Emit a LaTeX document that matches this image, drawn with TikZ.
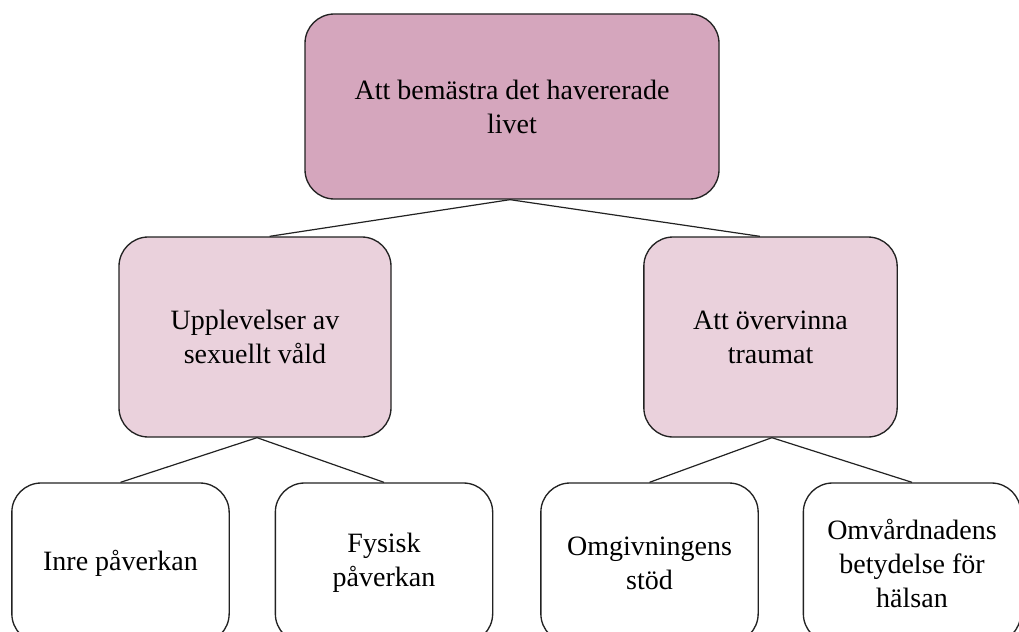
\documentclass[tikz,border=0pt]{standalone}
\usepackage{fontspec}
\setmainfont{Liberation Serif}
\definecolor{topfill}{HTML}{D5A6BD}
\definecolor{midfill}{HTML}{EAD1DC}
\definecolor{edge}{HTML}{222222}
\begin{document}
\begin{tikzpicture}[x=0.75pt,y=-0.75pt,
  box/.style={draw=edge,line width=1pt,rounded corners=22pt,align=center,
    font=\fontsize{21}{25.5}\selectfont,inner sep=0pt},
  topbox/.style={box,fill=topfill,minimum width=310.5pt,minimum height=138.75pt},
  midbox/.style={box,fill=midfill,minimum height=150pt},
  leafbox/.style={box,fill=white,minimum width=163pt,minimum height=120pt},
  link/.style={draw=edge,line width=0.9pt}]
\useasboundingbox (0,0) rectangle (1019,631);
\clip (0,0) rectangle (1019,631);
\node[topbox] (root) at (512,106.5) {Att bemästra det havererade\\livet};
\node[midbox,minimum width=204pt] (m1) at (255,337) {Upplevelser av\\sexuellt våld};
\node[midbox,minimum width=190pt] (m2) at (770.5,337) {Att övervinna\\traumat};
\node[leafbox] (l1) at (120.5,563) {Inre påverkan};
\node[leafbox] (l2) at (384,563) {Fysisk\\påverkan};
\node[leafbox] (l3) at (649.5,563) {Omgivningens\\stöd};
\node[leafbox] (l4) at (912,563) {Omvårdnadens\\betydelse för\\hälsan};
\coordinate (r0) at ([xshift=-1.5pt]root.south);
\coordinate (m1t) at ([xshift=11pt]m1.north);
\coordinate (m2t) at ([xshift=-8pt]m2.north);
\coordinate (m1b) at ([xshift=1.5pt]m1.south);
\coordinate (m2b) at ([xshift=1pt]m2.south);
\draw[link] (r0) -- (m1t);
\draw[link] (r0) -- (m2t);
\draw[link] (m1b) -- (l1.north);
\draw[link] (m1b) -- (l2.north);
\draw[link] (m2b) -- (l3.north);
\draw[link] (m2b) -- (l4.north);
\end{tikzpicture}
\end{document}
